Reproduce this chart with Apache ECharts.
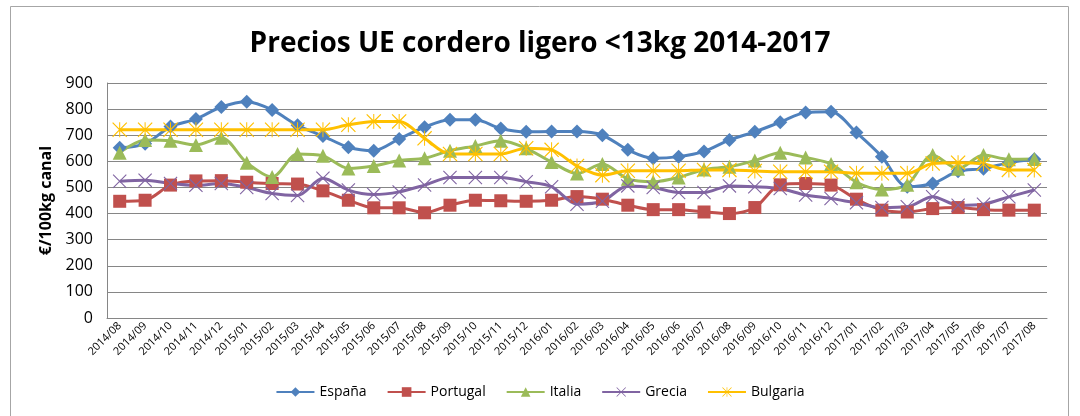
<!DOCTYPE html>
<html>
<head>
<meta charset="utf-8">
<script src="https://cdn.jsdelivr.net/npm/echarts@6/dist/echarts.min.js"></script>
<style>
  html, body { margin: 0; padding: 0; background: #fff; }
  #chart { width: 1080px; height: 416px; }
</style>
</head>
<body>
<div id="chart"></div>
<script>
// meses 2014/08 - 2017/08
const months = ['2014/08','2014/09','2014/10','2014/11','2014/12','2015/01','2015/02','2015/03','2015/04','2015/05','2015/06','2015/07','2015/08','2015/09','2015/10','2015/11','2015/12','2016/01','2016/02','2016/03','2016/04','2016/05','2016/06','2016/07','2016/08','2016/09','2016/10','2016/11','2016/12','2017/01','2017/02','2017/03','2017/04','2017/05','2017/06','2017/07','2017/08'];

const espana   = [652, 667, 733, 762, 808, 828, 797, 738, 697, 654, 641, 686, 731, 759, 759, 726, 713, 714, 714, 700, 644, 612, 618, 638, 682, 713, 750, 787, 790, 710, 618, 503, 515, 562, 572, 595, 608];
const portugal = [447, 451, 509, 525, 526, 520, 515, 513, 487, 451, 422, 422, 403, 432, 451, 449, 447, 451, 465, 455, 432, 415, 415, 406, 400, 423, 510, 515, 509, 455, 413, 406, 419, 423, 415, 413, 413];
const italia   = [633, 682, 679, 663, 690, 595, 540, 628, 621, 573, 582, 603, 612, 641, 659, 679, 650, 597, 553, 590, 533, 522, 538, 569, 579, 603, 633, 615, 590, 520, 492, 510, 624, 572, 624, 608, 609];
const grecia   = [524, 528, 515, 508, 515, 500, 477, 469, 535, 490, 473, 483, 509, 538, 538, 538, 522, 503, 436, 447, 506, 500, 481, 481, 506, 503, 496, 471, 458, 441, 423, 426, 464, 432, 436, 464, 490];
const bulgaria = [721, 721, 721, 721, 721, 721, 721, 721, 721, 740, 753, 753, 688, 628, 628, 628, 650, 644, 582, 547, 564, 564, 564, 567, 567, 563, 560, 560, 560, 554, 554, 554, 592, 595, 590, 567, 567];

const yTicks = [0, 100, 200, 300, 400, 500, 600, 700, 800, 900];

const xMark = 'path://M1,0 L9,8 L17,0 L18,1 L10,9 L18,17 L17,18 L9,10 L1,18 L0,17 L8,9 L0,1 Z';
const starMark = 'path://M1,0 L9,8 L17,0 L18,1 L10,9 L18,17 L17,18 L9,10 L1,18 L0,17 L8,9 L0,1 Z M8.4,0 L9.6,0 L9.6,18 L8.4,18 Z';

function serie(name, data, color, symbol, size) {
  return {
    name: name,
    type: 'line',
    data: data,
    smooth: 0.3,
    symbol: symbol,
    symbolSize: size,
    color: color,
    lineStyle: { width: 3, color: color },
    itemStyle: { color: color },
    emphasis: { disabled: true }
  };
}

const chart = echarts.init(document.getElementById('chart'));
chart.setOption({
  animation: false,
  backgroundColor: '#ffffff',
  title: {
    text: 'Precios UE cordero ligero <13kg 2014-2017',
    left: 'center',
    top: 25,
    textStyle: {
      fontFamily: 'Open Sans',
      fontSize: 28,
      fontWeight: 'bold',
      color: '#000'
    }
  },
  graphic: [{
    type: 'rect',
    shape: { x: 10.5, y: 6.5, width: 1058, height: 420 },
    style: { fill: 'none', stroke: '#a6a6a6', lineWidth: 1 },
    silent: true
  }],
  legend: {
    bottom: 12,
    left: 'center',
    itemWidth: 38,
    itemHeight: 12,
    itemGap: 20,
    textStyle: { fontFamily: 'Open Sans', fontSize: 14, color: '#000' },
    data: ['España', 'Portugal', 'Italia', 'Grecia', 'Bulgaria']
  },
  grid: { left: 107, right: 33, top: 83, bottom: 98 },
  xAxis: {
    type: 'category',
    data: months,
    boundaryGap: true,
    axisLine: { lineStyle: { color: '#868686' } },
    axisTick: { show: false },
    axisLabel: {
      rotate: 45,
      interval: 0,
      fontFamily: 'Open Sans',
      fontSize: 11,
      color: '#000',
      margin: 6
    }
  },
  yAxis: {
    type: 'value',
    min: 0,
    max: 900,
    interval: 100,
    name: '€/100kg canal',
    nameLocation: 'middle',
    nameGap: 50,
    nameTextStyle: { fontFamily: 'Open Sans', fontSize: 16, fontWeight: 'bold', color: '#000' },
    axisLine: { show: true, lineStyle: { color: '#868686' } },
    axisTick: { show: false },
    splitLine: { lineStyle: { color: '#868686', width: 1 } },
    axisLabel: {
      fontFamily: 'Open Sans',
      fontSize: 16,
      color: '#000',
      margin: 14,
      formatter: v => yTicks.includes(v) ? String(v) : ''
    }
  },
  series: [
    serie('España', espana, '#4F81BD', 'diamond', 14),
    serie('Portugal', portugal, '#C0504D', 'rect', 13),
    serie('Italia', italia, '#9BBB59', 'triangle', 14),
    serie('Grecia', grecia, '#8064A2', xMark, 14),
    serie('Bulgaria', bulgaria, '#FFC000', starMark, 15)
  ]
});
</script>
</body>
</html>
